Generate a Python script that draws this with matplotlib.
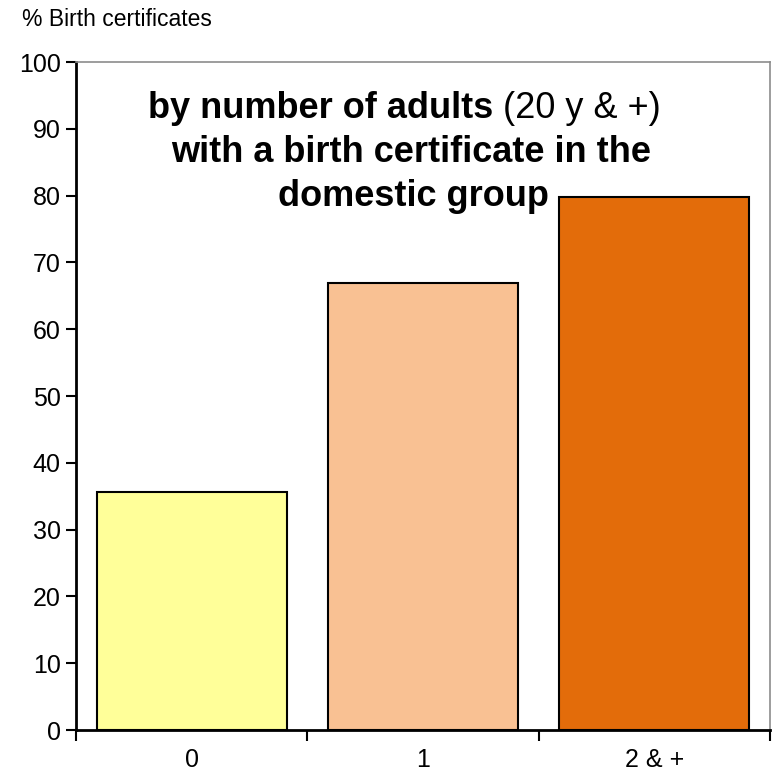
import matplotlib
matplotlib.use('Agg')
import matplotlib.pyplot as plt

categories = ['0', '1', '2 & +']
values = [35.6, 66.9, 79.8]
colors = ['#FFFF99', '#F9C193', '#E36C0A']

yticks = list(range(0, 101, 10))

plt.rcParams['font.family'] = ['Liberation Sans', 'DejaVu Sans']

fig = plt.figure(figsize=(7.73, 7.73), dpi=100)
ax = fig.add_axes([76 / 773, 1 - 730 / 773, 694 / 773, 668 / 773])

x = range(len(categories))
ax.bar(x, values, width=0.82, color=colors, edgecolor='black', linewidth=1.5, zorder=3)

ax.set_xlim(-0.5, len(categories) - 0.5)
ax.set_ylim(0, 100)
ax.set_yticks(yticks)
ax.set_yticklabels([str(t) for t in yticks], fontsize=18)

# ticks between categories, labels centred under bars
ax.set_xticks([-0.5, 0.5, 1.5, 2.5])
ax.set_xticklabels([])
ax.set_xticks(list(x), minor=True)
ax.set_xticklabels(categories, minor=True, fontsize=18)
ax.tick_params(axis='x', which='minor', length=0, pad=13)
ax.tick_params(axis='x', which='major', direction='out', length=8, width=1.5)
ax.tick_params(axis='y', direction='out', length=7, width=1.5, pad=4)

for side in ['left', 'bottom']:
    ax.spines[side].set_linewidth(2)
    ax.spines[side].set_color('black')
for side in ['top', 'right']:
    ax.spines[side].set_linewidth(1.2)
    ax.spines[side].set_color('#8c8c8c')

fig.text(22 / 773, 1 - 20 / 773, '% Birth certificates', fontsize=16.5,
         ha='left', va='center')

# title inside the plot area, first line mixes bold and regular
t1 = fig.text(148 / 773, 1 - 108 / 773, 'by number of adults', fontsize=26,
              fontweight='bold', ha='left', va='center')
ax.annotate(' (20 y & +)', xy=(1, 0.5), xycoords=t1, fontsize=26,
            ha='left', va='center')
fig.text(411 / 773, 1 - 152 / 773, 'with a birth certificate in the', fontsize=26,
         fontweight='bold', ha='center', va='center')
fig.text(413 / 773, 1 - 196 / 773, 'domestic group', fontsize=26,
         fontweight='bold', ha='center', va='center')

fig.savefig('out.png', dpi=100)
